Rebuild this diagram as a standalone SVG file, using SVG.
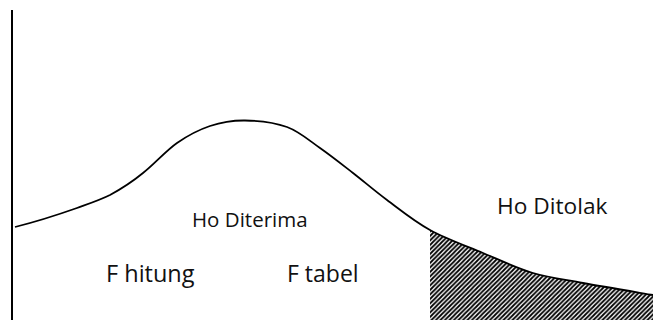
<svg xmlns="http://www.w3.org/2000/svg" width="653" height="320" viewBox="0 0 653 320">
  <style>
    .lbl { font-family: "Open Sans", "Noto Sans", "Liberation Sans", sans-serif; fill: #111; }
    .curve { fill: none; stroke: #000; stroke-width: 1.8; }
    .axis { stroke: #000; stroke-width: 2; }
  </style>
  <defs>
    <pattern id="hatch" patternUnits="userSpaceOnUse" width="4.5" height="4.5">
      <path d="M-1,1 L1,-1 M0,4.5 L4.5,0 M3.5,5.5 L5.5,3.5" stroke="#000" stroke-width="1.8"/>
    </pattern>
  </defs>
  <rect width="653" height="320" fill="#fff"/>
  <g id="axis">
    <line class="axis" x1="12" y1="10" x2="12" y2="320"/>
  </g>
  <g id="rejection-area">
    <path fill="url(#hatch)" d="M430,230 C446,238.8 465.8,245.8 483,253 C500.2,260.2 516.3,268 533,273 C549.7,278 563,279.3 583,283 C603,286.7 641.3,293 653,295 L653,320 L430,320 Z"/>
  </g>
  <g id="curve">
    <path class="curve" d="M15,227 C35,222 60,214 77,208 C88,204 100,200 110,195 C121,189 132,182 143,173 C154.2,164.3 165.8,150.8 177,143 C188.2,135.2 198.7,129.8 210,126 C221.3,122.3 232.2,120.3 245,120.5 C257.8,120.7 274.5,122.4 287,127 C299.5,131.6 309,140.3 320,148 C331,155.7 341.8,164.3 353,173 C364.2,181.7 374.2,190.5 387,200 C399.8,209.5 414,221.2 430,230 C446,238.8 465.8,245.8 483,253 C500.2,260.2 516.3,268 533,273 C549.7,278 563,279.3 583,283 C603,286.7 641.3,293 653,295"/>
  </g>
  <g id="labels">
    <text class="lbl" x="192" y="227" font-size="20.5">Ho Diterima</text>
    <text class="lbl" x="497" y="214" font-size="22.7">Ho Ditolak</text>
    <text class="lbl" x="106" y="282" font-size="23.5">F hitung</text>
    <text class="lbl" x="287" y="282" font-size="23">F tabel</text>
  </g>
</svg>
